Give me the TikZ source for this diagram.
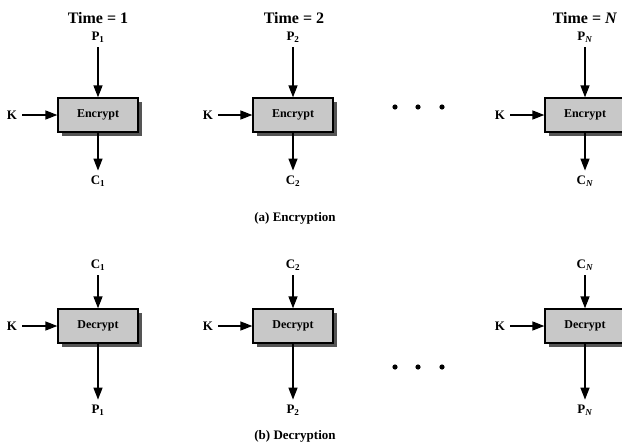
\documentclass[tikz,border=0pt]{standalone}
\usepackage{fontspec}
\setmainfont{Liberation Serif}
\usepackage{tikz}
\usetikzlibrary{arrows.meta, positioning, shadows}
\definecolor{boxgray}{RGB}{200,200,200}
\definecolor{shadowgray}{RGB}{85,85,85}

\begin{document}
\begin{tikzpicture}[
    x=1pt, y=-1pt,
    box/.style={draw, line width=1.3pt, fill=boxgray, minimum width=80pt, minimum height=34pt, inner sep=0pt,
        font=\fontsize{12}{14}\selectfont\bfseries,
        drop shadow={shadow xshift=4pt, shadow yshift=-4pt, fill=shadowgray, opacity=1}},
    lbl/.style={inner sep=5pt, font=\fontsize{13}{15}\selectfont\bfseries},
    timelbl/.style={font=\fontsize{16}{18}\selectfont\bfseries},
    caption/.style={font=\fontsize{13}{15}\selectfont\bfseries},
    arrow/.style={-{Triangle[length=12pt,width=9pt]}, line width=1.4pt}
]
    \useasboundingbox (0,0) rectangle (622,442);

    % (a) Encryption
    \node[timelbl] (t1) at (98,18) {Time = 1};
    \node[timelbl] (t2) at (294,18) {Time = 2};
    \node[timelbl] (tn) at (585,18) {Time = \textit{N}};

    \node[box] (enc1) at (98,115) {Encrypt};
    \node[box] (enc2) at (293,115) {Encrypt};
    \node[box] (encn) at (585,115) {Encrypt};

    \node[lbl] (pa1) at (98,37) {P\textsubscript{1}};
    \node[lbl] (pa2) at (293,37) {P\textsubscript{2}};
    \node[lbl] (pan) at (585,37) {P\textsubscript{\textit{N}}};
    \node[lbl] (ca1) at (98,181) {C\textsubscript{1}};
    \node[lbl] (ca2) at (293,181) {C\textsubscript{2}};
    \node[lbl] (can) at (585,181) {C\textsubscript{\textit{N}}};
    \node[lbl] (ka1) at (12,115) {K};
    \node[lbl] (ka2) at (208,115) {K};
    \node[lbl] (kan) at (500,115) {K};

    \draw[arrow] (pa1) -- (enc1);
    \draw[arrow] (pa2) -- (enc2);
    \draw[arrow] (pan) -- (encn);
    \draw[arrow] (ka1) -- (enc1);
    \draw[arrow] (ka2) -- (enc2);
    \draw[arrow] (kan) -- (encn);
    \draw[arrow] (enc1) -- (ca1);
    \draw[arrow] (enc2) -- (ca2);
    \draw[arrow] (encn) -- (can);

    \fill (395,107) circle (2.6pt);
    \fill (418,107) circle (2.6pt);
    \fill (442,107) circle (2.6pt);

    \node[caption] (capa) at (295,218) {(a) Encryption};

    % (b) Decryption
    \node[box] (dec1) at (98,326) {Decrypt};
    \node[box] (dec2) at (293,326) {Decrypt};
    \node[box] (decn) at (585,326) {Decrypt};

    \node[lbl] (cb1) at (98,265) {C\textsubscript{1}};
    \node[lbl] (cb2) at (293,265) {C\textsubscript{2}};
    \node[lbl] (cbn) at (585,265) {C\textsubscript{\textit{N}}};
    \node[lbl] (pb1) at (98,410) {P\textsubscript{1}};
    \node[lbl] (pb2) at (293,410) {P\textsubscript{2}};
    \node[lbl] (pbn) at (585,410) {P\textsubscript{\textit{N}}};
    \node[lbl] (kb1) at (12,326) {K};
    \node[lbl] (kb2) at (208,326) {K};
    \node[lbl] (kbn) at (500,326) {K};

    \draw[arrow] (cb1) -- (dec1);
    \draw[arrow] (cb2) -- (dec2);
    \draw[arrow] (cbn) -- (decn);
    \draw[arrow] (kb1) -- (dec1);
    \draw[arrow] (kb2) -- (dec2);
    \draw[arrow] (kbn) -- (decn);
    \draw[arrow] (dec1) -- (pb1);
    \draw[arrow] (dec2) -- (pb2);
    \draw[arrow] (decn) -- (pbn);

    \fill (395,367) circle (2.6pt);
    \fill (418,367) circle (2.6pt);
    \fill (442,367) circle (2.6pt);

    \node[caption] (capb) at (295,436) {(b) Decryption};
\end{tikzpicture}
\end{document}
